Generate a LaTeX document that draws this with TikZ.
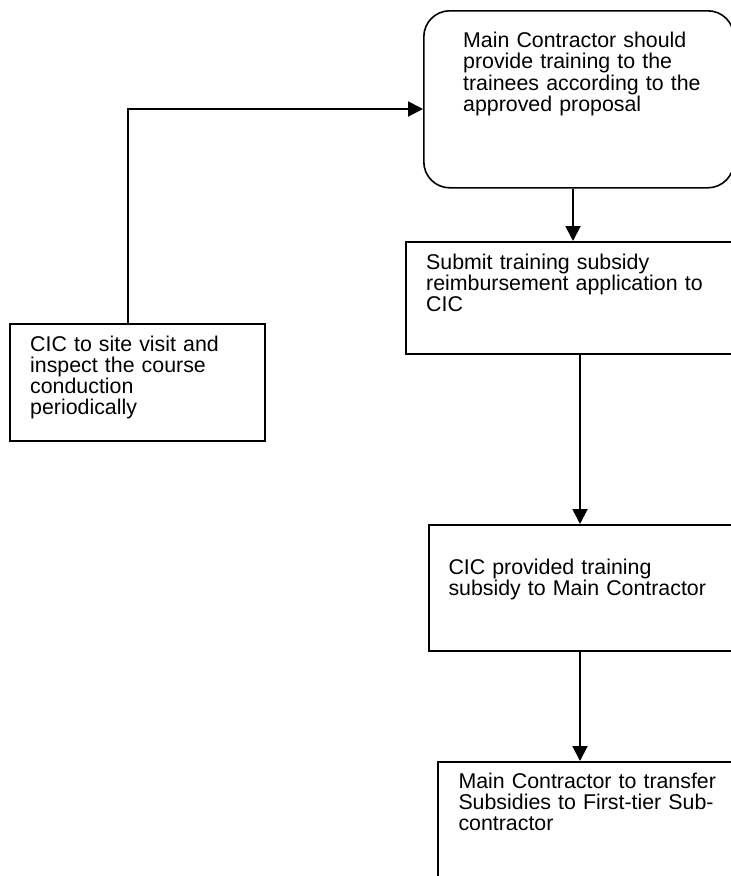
\documentclass[tikz,border=0pt]{standalone}
\usepackage{fontspec}
\setmainfont{Liberation Sans}
\usetikzlibrary{arrows.meta}
\begin{document}
\begin{tikzpicture}[x=1pt,y=-1pt,
  boxshape/.style={draw, line width=1.6pt, rectangle, anchor=north west, inner sep=0pt},
  boxtext/.style={anchor=base west, inner sep=0pt, text width=320pt, align=left,
     font=\fontsize{21.35}{21.2}\selectfont},
  conn/.style={line width=1.9pt, -{Triangle[length=15pt,width=15pt]}}]
\useasboundingbox (0,0) rectangle (731,876);
\clip (0,0) rectangle (731,876);
% boxes
\node[boxshape, rounded corners=26pt, minimum width=310pt, minimum height=177pt] (R) at (423,10) {};
\node[boxshape, minimum width=360pt, minimum height=112pt] (S) at (405,241) {};
\node[boxshape, minimum width=340pt, minimum height=126pt] (P) at (428,524) {};
\node[boxshape, minimum width=330pt, minimum height=150pt] (T) at (437,761) {};
\node[boxshape, minimum width=255pt, minimum height=117pt] (L) at (9,323) {};
% texts
\node[boxtext] (Rt) at (463,47.7) {Main Contractor should\\provide training to the\\trainees according to the\\approved proposal};
\node[boxtext] (St) at (426,269.3) {Submit training subsidy\\reimbursement application to\\CIC};
\node[boxtext] (Pt) at (448.3,574) {CIC provided training\\subsidy to Main Contractor};
\node[boxtext] (Tt) at (458.3,788.3) {Main Contractor to transfer\\Subsidies to First-tier Sub-\\contractor};
\node[boxtext] (Lt) at (30,351) {CIC to site visit and\\inspect the course\\conduction\\periodically};
% connectors
\draw[conn] ([xshift=150pt]R.south west) -- ([xshift=168pt]S.north west);
\draw[conn] ([xshift=175pt]S.south west) -- ([xshift=152pt]P.north west);
\draw[conn] ([xshift=152pt]P.south west) -- ([xshift=143pt]T.north west);
\draw[conn] ([xshift=119pt]L.north west) |- ([yshift=-99pt]R.north west);
\end{tikzpicture}
\end{document}
